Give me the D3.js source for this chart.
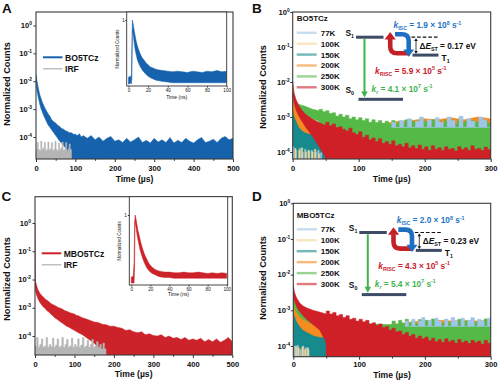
<!DOCTYPE html>
<html><head><meta charset="utf-8">
<script src="https://cdn.jsdelivr.net/npm/d3@7"></script>
<style>html,body{margin:0;padding:0;background:#fff;} svg{display:block;font-family:"Liberation Sans",Arial,sans-serif;font-weight:bold;}</style>
</head><body><svg id="c" width="500" height="382"></svg>
<script>
// ---------- DATA (values are log10 of normalized counts unless noted) ----------
const xTicksA = [0,100,200,300,400,500];
const xMinorA = [50,150,250,350,450];
const xTicksB = [0,100,200,300];
const xMinorB = [50,150,250];
const yTickExps = [0,-1,-2,-3,-4];
const insetTicks = [0,20,40,60,80,100];
const tempLabels = ["77K","100K","150K","200K","250K","300K"];

// Panel A
const timeA = [0,2,4,6,8,10,13,16,20,25,30,35,40,45,50,55,60,65,70,75,80,85,90,95,100,105,110,115,120,
  130,140,150,160,170,180,190,200,210,220,230,240,250,260,270,280,290,300,310,320,330,340,350,360,370,380,390,400,410,420,430,440,450,460,470,480,490,500];
const bo5tczUp = [-1.75,-1.95,-2.1,-2.25,-2.38,-2.5,-2.62,-2.75,-2.88,-3.02,-3.15,-3.25,-3.38,-3.45,-3.5,-3.58,-3.62,-3.7,-3.72,-3.78,-3.8,-3.85,-3.85,-3.9,-3.9,-3.95,-3.88,-4.0,-3.95,
  -4.05,-3.95,-4.1,-4.0,-4.15,-4.05,-3.98,-4.15,-4.1,-4.2,-4.05,-4.18,-4.1,-4.0,-4.2,-4.12,-4.22,-4.05,-4.18,-4.1,-4.2,-4.02,-4.22,-4.12,-4.2,-4.05,-4.15,-4.22,-4.1,-4.02,-4.2,-4.15,-4.08,-4.2,-4.05,-3.98,-4.1,-4.05];
const bo5tczLo = [-2.05,-2.3,-2.45,-2.6,-2.72,-2.85,-3.0,-3.1,-3.25,-3.4,-3.55,-3.65,-3.75,-3.85,-3.95,-4.05,-4.15,-4.22,-4.3,-4.4,-4.5,-4.65];
const irfTimeA = [0,3,6,9,12,15,18,21,24,27,30,33,36,39,42,45,48,51,54,57,60,63,66,69,72,75,78,81,84,87,90];
const irfA = [-4.45,-4.2,-4.45,-4.5,-4.15,-4.45,-4.4,-4.2,-4.5,-4.45,-4.18,-4.48,-4.42,-4.2,-4.5,-4.45,-4.15,-4.45,-4.5,-4.22,-4.45,-4.4,-4.18,-4.48,-4.45,-4.2,-4.5,-4.42,-4.25,-4.45,-4.5];
// inset A (ns, linear normalized counts)
const insetTime = [0,1,2,3,3.5,4,5,6,7,8,9,10,12,14,16,18,20,22,25,28,31,35,40,45,50,55,60,65,70,75,80,85,90,95,100];
const insetBlueUp = [0.1,0.12,0.1,0.15,0.6,1.0,0.92,0.82,0.74,0.66,0.6,0.55,0.47,0.41,0.37,0.33,0.3,0.27,0.25,0.23,0.22,0.21,0.2,0.19,0.2,0.19,0.18,0.2,0.19,0.18,0.2,0.19,0.21,0.19,0.2];
const insetBlueLo = [0,0,0.02,0,0.1,0.85,0.75,0.62,0.52,0.45,0.38,0.34,0.27,0.22,0.18,0.15,0.12,0.1,0.08,0.06,0.05,0.04,0.03,0.02,0.02,0.02,0.02,0.02,0.02,0.02,0.02,0.02,0.02,0.02,0.02];

// Panel C
const timeC = [0,1,2,4,6,8,10,13,16,20,25,30,35,40,45,50,55,60,65,70,75,80,85,90,95,100,105,110,115,120,
  130,140,150,160,170,180,190,200,210,220,230,240,250,260,270,280,290,300,310,320,330,340,350,360,370,380,390,400,410,420,430,440,450,460,470,480,490,500];
const mbo5tczUp = [0.0,-2.0,-2.1,-2.2,-2.3,-2.38,-2.42,-2.5,-2.55,-2.6,-2.68,-2.73,-2.78,-2.85,-2.88,-2.92,-2.95,-3.0,-3.02,-3.05,-3.1,-3.12,-3.15,-3.18,-3.2,-3.22,-3.27,-3.28,-3.32,-3.35,
  -3.4,-3.45,-3.5,-3.52,-3.58,-3.6,-3.65,-3.65,-3.7,-3.72,-3.8,-3.78,-3.85,-3.88,-3.85,-3.95,-3.92,-3.98,-4.0,-3.95,-4.05,-4.0,-4.08,-4.05,-4.12,-4.05,-4.15,-4.1,-4.15,-4.08,-4.2,-4.12,-4.2,-4.1,-4.22,-4.15,-4.05,-4.2];
const mbo5tczLo = [-2.3,-2.35,-2.45,-2.55,-2.62,-2.7,-2.75,-2.82,-2.88,-2.95,-3.02,-3.1,-3.15,-3.22,-3.28,-3.35,-3.4,-3.45,-3.5,-3.55,-3.6,-3.65,-3.68,-3.72,-3.76,-3.8,-3.84,-3.88,-3.92,-3.95,
  -4.05,-4.15,-4.25,-4.4,-4.55];
const irfTimeC = [0,4,8,12,16,20,24,28,32,36,40,44,48,52,56,60,64,68,72,76,80,84,88,92,96,100,104,108,112,116,120,124,128,132,136,140,144,148,152,156,160,164,168,172,176,180];
const irfC = [-4.35,-4.05,-4.4,-4.3,-4.1,-4.4,-4.35,-4.05,-4.4,-4.3,-4.38,-4.08,-4.4,-4.32,-4.1,-4.4,-4.35,-4.05,-4.4,-4.3,-4.12,-4.4,-4.35,-4.08,-4.4,-4.3,-4.38,-4.1,-4.4,-4.32,-4.05,-4.4,-4.35,-4.15,-4.4,-4.3,-4.12,-4.4,-4.35,-4.2,-4.4,-4.3,-4.45,-4.25,-4.45,-4.5];
const insetRedUp = [0.08,0.1,0.08,0.3,0.8,1.0,0.95,0.86,0.78,0.72,0.66,0.6,0.5,0.42,0.36,0.3,0.26,0.23,0.2,0.18,0.17,0.16,0.16,0.15,0.15,0.16,0.15,0.15,0.16,0.15,0.14,0.15,0.14,0.15,0.14];
const insetRedLo = [0,0,0,0,0.2,0.9,0.82,0.72,0.64,0.57,0.5,0.45,0.36,0.29,0.23,0.19,0.16,0.14,0.12,0.1,0.09,0.08,0.08,0.07,0.07,0.07,0.07,0.07,0.07,0.07,0.07,0.07,0.07,0.07,0.07];

// Panels B / D shared time grid (µs)
const timeBD = [0,2,5,10,15,20,30,40,50,60,75,90,105,120,140,160,180,200,220,240,260,280,300];
const spikeT40 = [40,45,50,55,60,65,70,75,80,85,90,95,100,105,110,115,120,125,130,135,140,145,150,155,160,165,170,175,180,185,190,195,200,205,210,215,220,225,230,235,240,245,250,255,260,265,270,275,280,285,290,295,300];
const spikeT50 = spikeT40.slice(2);
const spikeT150 = spikeT40.slice(22);
// Panel B (BO5TCz)
const b150Up = [-2.55,-2.75,-2.9,-3.1,-3.2,-3.3,-3.45,-3.6,-3.85,-4.3];
const b200Up = [-2.35,-2.6,-2.78,-2.95,-3.05,-3.12,-3.2,-3.25,-3.28,-3.3,-3.28,-3.25,-3.22,-3.2,-3.18,-3.12,-3.1,-3.05,-3.08,-3.02,-3.08,-3.0,-3.05];
const b200Lo = [-2.75,-2.95,-3.1,-3.3,-3.4,-3.45,-3.5,-3.5,-3.5,-3.5,-3.5,-3.45,-3.42,-3.4,-3.38,-3.35,-3.32,-3.3,-3.3,-3.28,-3.3,-3.28,-3.3];
const b250Up = [-2.35,-2.5,-2.6,-2.64,-2.67,-2.7,-2.78,-2.82,-2.88,-2.95,-3.02,-3.08,-3.13,-3.18,-3.2,-3.22,-3.2,-3.22,-3.2,-3.22,-3.18,-3.2,-3.22];
const b250Lo = [-2.4,-2.55,-2.68,-2.85,-2.9,-2.95,-3.05,-3.12,-3.2,-3.3,-3.5,-3.6,-3.7,-3.8,-3.88,-3.95,-4.0,-4.02,-4.05,-4.05,-4.05,-4.05,-4.05];
const b250Spikes = [-2.78,-2.85,-2.82,-2.9,-2.88,-2.98,-2.92,-3.0,-2.95,-3.05,-3.0,-3.08,-3.02,-3.1,-3.05,-3.15,-3.08,-3.16,-3.1,-3.18,-3.12,-3.2,-3.1,-3.18,-3.12,-3.2,-3.08,-3.18,-3.12,-3.2,-3.1,-3.16,-3.12,-3.2,-3.08,-3.18,-3.12,-3.2,-3.1,-3.16,-3.12,-3.2,-3.08,-3.18,-3.12,-3.2,-3.1,-3.16,-3.12,-3.2,-3.1,-3.18,-3.12];
const b250SpikesLo = -3.3;
const b300Up = [-1.99,-2.3,-2.5,-2.7,-2.83,-2.93,-3.06,-3.16,-3.24,-3.32,-3.44,-3.56,-3.66,-3.74,-3.82,-3.9,-3.95,-3.98,-4.0,-4.02,-4.0,-4.03,-4.0];
const b300Lo = [-2.35,-2.6,-2.8,-3.0,-3.15,-3.3,-3.55,-3.85,-4.15];
const b300Spikes = [-3.15,-3.25,-3.2,-3.3,-3.28,-3.35,-3.4,-3.32,-3.45,-3.5,-3.42,-3.58,-3.52,-3.65,-3.6,-3.7,-3.62,-3.75,-3.7,-3.78,-3.68,-3.82,-3.78,-3.85,-3.75,-3.88,-3.82,-3.9,-3.8,-3.92,-3.85,-3.95,-3.82,-3.92,-3.88,-3.95,-3.85,-3.92,-3.9,-3.97,-3.85,-3.93,-3.88,-3.95,-3.82,-3.92,-3.9,-3.96,-3.86,-3.93,-3.9];
const b77FloorT = [0,2,4,6,8,10,12,14,16,18,20,22,24,26,28,30,32,34,36,38,40,42,44];
const b77FloorUp = [-3.85,-4.5,-3.95,-4.5,-4.5,-3.9,-4.5,-4.0,-4.5,-3.92,-4.5,-4.5,-3.98,-4.5,-3.95,-4.5,-4.5,-4.0,-4.5,-3.95,-4.5,-4.02,-4.5];
const b100FloorT = [1,3,5,7,9,11,13,15,17,19,21,23,25,27,29,31,33,35,37,39,41,43];
const b100FloorUp = [-4.5,-3.9,-4.5,-4.5,-3.95,-4.5,-3.88,-4.5,-4.5,-4.0,-4.5,-3.95,-4.5,-4.5,-4.0,-4.5,-3.92,-4.5,-4.5,-4.05,-4.5,-4.5];
const b77TailT = [150,156,162,168,174,180,186,192,198,204,210,216,222,228,234,240,246,252,258,264,270,276,282,288,294,300];
const b77TailUp = [-3.15,-3.3,-3.1,-3.3,-3.05,-3.3,-3.12,-3.0,-3.3,-3.08,-3.3,-3.02,-3.15,-3.3,-3.0,-3.1,-3.3,-2.98,-3.3,-3.05,-3.12,-3.3,-3.0,-3.08,-3.3,-3.05];
const b77TailLo = -3.3;
// Panel D (MBO5TCz)
const d150Up = [-2.95,-3.05,-3.15,-3.25,-3.35,-3.42,-3.55,-3.65,-3.8,-4.35];
const d200Up = [-2.5,-2.7,-2.85,-3.0,-3.1,-3.2,-3.3,-3.4,-3.45,-3.5,-3.5,-3.5,-3.48,-3.45,-3.42,-3.38,-3.32,-3.3,-3.28,-3.3,-3.28,-3.3,-3.28];
const d200Lo = [-3.0,-3.15,-3.3,-3.45,-3.55,-3.6,-3.7,-3.75,-3.75,-3.75,-3.72,-3.7,-3.7,-3.68,-3.65,-3.6,-3.58,-3.55,-3.55,-3.52,-3.55,-3.52,-3.55];
const d250Up = [-2.45,-2.6,-2.72,-2.85,-2.95,-3.0,-3.1,-3.15,-3.2,-3.22,-3.28,-3.32,-3.35,-3.38,-3.4,-3.4,-3.38,-3.38,-3.36,-3.38,-3.36,-3.38,-3.36];
const d250Lo = [-2.8,-2.95,-3.05,-3.18,-3.25,-3.3,-3.4,-3.5,-3.6,-3.65,-3.7,-3.75,-3.78,-3.8,-3.82,-3.85,-3.88,-3.95,-4.0,-4.0,-4.0,-4.0,-4.0];
const d250Spikes = [-3.3,-3.38,-3.28,-3.36,-3.25,-3.35,-3.3,-3.38,-3.26,-3.34,-3.28,-3.36,-3.24,-3.35,-3.3,-3.38,-3.26,-3.34,-3.28,-3.36,-3.25,-3.35,-3.3,-3.38,-3.26,-3.34,-3.28,-3.36,-3.24,-3.34,-3.3];
const d250SpikesLo = -3.4;
const d300Up = [-2.3,-2.5,-2.65,-2.8,-2.88,-2.93,-3.0,-3.05,-3.1,-3.15,-3.25,-3.32,-3.38,-3.45,-3.55,-3.68,-3.78,-3.85,-3.9,-3.92,-3.95,-3.95,-3.97];
const d300Lo = [-2.6,-2.75,-2.9,-3.05,-3.15,-3.25,-3.4,-3.55,-3.9];
const d300Spikes = [-3.02,-3.1,-3.06,-3.15,-3.12,-3.2,-3.15,-3.25,-3.22,-3.3,-3.25,-3.32,-3.28,-3.38,-3.35,-3.42,-3.38,-3.48,-3.45,-3.55,-3.5,-3.6,-3.58,-3.68,-3.62,-3.72,-3.68,-3.78,-3.72,-3.8,-3.75,-3.85,-3.78,-3.88,-3.82,-3.9,-3.8,-3.88,-3.84,-3.92,-3.82,-3.9,-3.86,-3.93,-3.84,-3.9,-3.86,-3.95,-3.84,-3.92,-3.88];
const d77FloorT = [0,2,4,6,8,10,12,14,16,18,20,22,24];
const d77FloorUp = [-4.0,-4.6,-4.05,-3.98,-4.6,-4.1,-4.6,-4.0,-4.6,-4.05,-4.6,-4.1,-4.6];
const d100FloorT = [1,3,5,7,9,11,13,15,17,19,21,23,25];
const d100FloorUp = [-4.6,-4.0,-4.6,-4.05,-4.6,-4.6,-4.02,-4.6,-4.1,-4.6,-4.05,-4.6,-4.6];
const d77TailT = [170,175,180,185,190,195,200,205,210,215,220,225,230,235,240,245,250,255,260,265,270,275,280,285,290,295,300];
const d77TailUp = [-3.3,-3.45,-3.25,-3.45,-3.3,-3.2,-3.45,-3.28,-3.45,-3.22,-3.3,-3.45,-3.25,-3.45,-3.2,-3.3,-3.45,-3.22,-3.45,-3.28,-3.2,-3.45,-3.25,-3.3,-3.45,-3.22,-3.3];
const d77TailLo = -3.45;

// rate constants text
const kiscB = ["1.9","8"], kriscB = ["5.9","5"], krB = ["4.1","7"], dEstB = "0.17";
const kiscD = ["2.0","8"], kriscD = ["4.3","5"], krD = ["5.4","7"], dEstD = "0.23";

// ---------- STYLE ----------
const BLUE = "#1762ad", RED = "#cc2229", GREY = "#b5b5b5";
const tempColors = ["#9fc5e8","#f3d594","#168a8c","#f68b1f","#55b947","#cf2028"];
const FLOOR = -6;
const svg = d3.select("#c");
const TXT = "#111";

function rich(sel, x, y, parts, size, fill, anchor) {
  const t = sel.append("text").attr("x", x).attr("y", y).attr("font-size", size)
    .attr("fill", fill || TXT).attr("text-anchor", anchor || "start");
  let cur = 0;
  for (const [s, k] of parts) {
    let off = 0, fs = size;
    if (k && k.includes("sup")) { off = -size * 0.4; fs = size * 0.64; }
    if (k && k.includes("sub")) { off = size * 0.25; fs = size * 0.64; }
    const ts = t.append("tspan").attr("font-size", fs).attr("dy", (off - cur).toFixed(2)).text(s);
    if (k && k.includes("i")) ts.attr("font-style", "italic");
    cur = off;
  }
  return t;
}

let clipN = 0;
function panel(o) {
  const x = d3.scaleLinear().domain(o.xDom).range([o.left, o.right]);
  const y = d3.scaleLog().domain([10 ** o.yMin, 10 ** o.yMax]).range([o.bottom, o.top]);
  const g = svg.append("g");
  const id = "clip" + (clipN++);
  g.append("clipPath").attr("id", id).append("rect")
    .attr("x", o.left).attr("y", o.top).attr("width", o.right - o.left).attr("height", o.bottom - o.top);
  const plot = g.append("g").attr("clip-path", `url(#${id})`);
  return { x, y, g, plot, o, yv: v => y(10 ** v) };
}

function band(p, yv, x, times, up, lo, color, curve) {
  const pts = times.map((t, i) => ({
    t, u: up[i],
    l: (typeof lo === "number") ? lo : ((lo && lo[i] != null) ? lo[i] : FLOOR)
  }));
  const a = d3.area().defined(d => d.u != null)
    .x(d => x(d.t)).y1(d => yv(d.u)).y0(d => yv(d.l)).curve(curve || d3.curveLinear);
  p.append("path").datum(pts).attr("d", a).attr("fill", color)
    .attr("stroke", color).attr("stroke-width", 0.5);
}

function axes(P, xt, xm, tickLabelDx, titleX, titleY, xLabY, xTitleY) {
  const { x, y, g, o } = P;
  const ax = g.append("g").attr("transform", `translate(0,${o.bottom})`)
    .call(d3.axisBottom(x).tickValues(xt).tickSize(3).tickPadding(1.5).tickFormat(d => d));
  ax.select(".domain").remove();
  ax.selectAll("text").attr("font-size", 7.6).attr("font-family", "Liberation Sans, Arial, sans-serif")
    .attr("font-weight", "bold").attr("fill", TXT).attr("dy", null).attr("y", xLabY - o.bottom);
  ax.selectAll("line").attr("stroke", "#333");
  const am = g.append("g").attr("transform", `translate(0,${o.bottom})`)
    .call(d3.axisBottom(x).tickValues(xm).tickSize(1.8).tickFormat(""));
  am.select(".domain").remove(); am.selectAll("line").attr("stroke", "#333");
  const ay = g.append("g").attr("transform", `translate(${o.left},0)`)
    .call(d3.axisLeft(y).tickValues(yTickExps.map(e => 10 ** e)).tickSize(2.5).tickFormat(""));
  ay.select(".domain").remove(); ay.selectAll("line").attr("stroke", "#333");
  yTickExps.forEach(e => {
    rich(g, o.left - tickLabelDx, y(10 ** e) + 2.7, [["10", ""], [String(e), "sup"]], 7.6, TXT, "end");
  });
  g.append("rect").attr("x", o.left).attr("y", o.top).attr("width", o.right - o.left)
    .attr("height", o.bottom - o.top).attr("fill", "none").attr("stroke", "#3a3a3a").attr("stroke-width", 1.1);
  g.append("text").attr("font-size", 9.2).attr("fill", TXT).attr("text-anchor", "middle")
    .attr("transform", `translate(${titleX},${titleY}) rotate(-90)`).text("Normalized Counts");
  g.append("text").attr("font-size", 8.6).attr("fill", TXT).attr("text-anchor", "middle")
    .attr("x", (o.left + o.right) / 2).attr("y", xTitleY).text("Time (µs)");
}

function inset(box, dom, yr, up, lo, color, labY, titleY, yTitleX, oneX) {
  const g = svg.append("g");
  const xi = d3.scaleLinear().domain(dom).range([box.l, box.r]);
  const yi = d3.scaleLinear().domain([0, 1]).range(yr);
  g.append("rect").attr("x", box.l).attr("y", box.t).attr("width", box.r - box.l).attr("height", box.b - box.t)
    .attr("fill", "#fff");
  const id = "clip" + (clipN++);
  g.append("clipPath").attr("id", id).append("rect").attr("x", box.l).attr("y", box.t)
    .attr("width", box.r - box.l).attr("height", box.b - box.t);
  const p = g.append("g").attr("clip-path", `url(#${id})`);
  band(p, v => yi(v), xi, insetTime, up, lo, color);
  g.append("rect").attr("x", box.l).attr("y", box.t).attr("width", box.r - box.l).attr("height", box.b - box.t)
    .attr("fill", "none").attr("stroke", "#333").attr("stroke-width", 0.9);
  const ax = g.append("g").attr("transform", `translate(0,${box.b})`)
    .call(d3.axisBottom(xi).tickValues(insetTicks).tickSize(1.5).tickPadding(1).tickFormat(d => d));
  ax.select(".domain").remove(); ax.selectAll("line").attr("stroke", "#333");
  ax.selectAll("text").attr("font-size", 4.6).attr("font-weight", "normal").attr("fill", TXT)
    .attr("font-family", "Liberation Sans, Arial, sans-serif").attr("dy", null).attr("y", labY - box.b);
  const ay = g.append("g").attr("transform", `translate(${box.l},0)`)
    .call(d3.axisLeft(yi).tickValues([1]).tickSize(1.5).tickFormat(""));
  ay.select(".domain").remove(); ay.selectAll("line").attr("stroke", "#333");
  g.append("text").attr("x", oneX).attr("y", yi(1) + 1.6).attr("font-size", 4.6).attr("font-weight", "normal")
    .attr("text-anchor", "middle").attr("fill", TXT).text("1");
  g.append("text").attr("x", (box.l + box.r) / 2).attr("y", titleY).attr("font-size", 5).attr("font-weight", "normal")
    .attr("text-anchor", "middle").attr("fill", TXT).text("Time (ns)");
  g.append("text").attr("font-size", 4.6).attr("font-weight", "normal").attr("fill", TXT).attr("text-anchor", "middle")
    .attr("transform", `translate(${yTitleX},${(box.t + box.b) / 2}) rotate(-90)`).text("Normalized Counts");
}

function diagram(dx, dy, kisc, krisc, kr, dEst) {
  const g = svg.append("g").attr("transform", `translate(${dx},${dy})`);
  const bar = "#3d4b66";
  g.append("rect").attr("x", 356).attr("y", 35.7).attr("width", 27.5).attr("height", 3).attr("fill", bar);
  g.append("rect").attr("x", 412.5).attr("y", 53.6).attr("width", 26).attr("height", 3).attr("fill", bar);
  g.append("rect").attr("x", 358.5).attr("y", 97.8).attr("width", 44.5).attr("height", 3).attr("fill", bar);
  g.append("line").attr("x1", 364.5).attr("y1", 39).attr("x2", 364.5).attr("y2", 92).attr("stroke", "#3cb44b").attr("stroke-width", 2);
  g.append("path").attr("d", "M361.3,91.5 L367.7,91.5 L364.5,97.5 Z").attr("fill", "#3cb44b");
  g.append("path").attr("d", "M410,53.3 L397,53.3 Q390.2,53.3 390.2,46.5 L390.2,39").attr("fill", "none")
    .attr("stroke", "#c42127").attr("stroke-width", 4.6);
  g.append("path").attr("d", "M384.6,39.5 L395.8,39.5 L390.2,32 Z").attr("fill", "#c42127");
  g.append("path").attr("d", "M395,34.3 L402,34.3 Q408.7,34.3 408.7,41 L408.7,50").attr("fill", "none")
    .attr("stroke", "#1f6fc1").attr("stroke-width", 4.6);
  g.append("path").attr("d", "M403.2,49.5 L414.2,49.5 L408.7,56.8 Z").attr("fill", "#1f6fc1");
  g.append("line").attr("x1", 411.5).attr("x2", 438.5).attr("y1", 37.2).attr("y2", 37.2)
    .attr("stroke", "#111").attr("stroke-width", 1.2).attr("stroke-dasharray", "3.6,2");
  g.append("line").attr("x1", 416).attr("x2", 416).attr("y1", 40).attr("y2", 52).attr("stroke", "#111").attr("stroke-width", 0.8);
  g.append("path").attr("d", "M414.2,41 L417.8,41 L416,38.3 Z M414.2,51 L417.8,51 L416,53.7 Z").attr("fill", "#111");
  rich(g, 345.5, 35.5, [["S", ""], ["1", "sub"]], 8.4, TXT);
  rich(g, 441.5, 61, [["T", ""], ["1", "sub"]], 8.4, TXT);
  rich(g, 345.5, 92.5, [["S", ""], ["0", "sub"]], 8.4, TXT);
  rich(g, 393.5, 28, [["k", "i"], ["ISC", "sub"], [" = " + kisc[0] + " × 10", ""], [kisc[1], "sup"], [" s", ""], ["-1", "sup"]], 8.3, "#1f74c4");
  rich(g, 419.5, 48.5, [["Δ", ""], ["E", "i"], ["ST", "sub"], [" = " + dEst + " eV", ""]], 8.3, TXT);
  rich(g, 375, 73.5, [["k", "i"], ["RISC", "sub"], [" = " + krisc[0] + " × 10", ""], [krisc[1], "sup"], [" s", ""], ["-1", "sup"]], 8.3, "#c8202a");
  rich(g, 371.5, 91.5, [["k", "i"], ["r", "isub"], [" = " + kr[0] + " × 10", ""], [kr[1], "sup"], [" s", ""], ["-1", "sup"]], 8.3, "#3cb44b");
}

function tempLegend(x0, y0, dy, title, titleY) {
  const g = svg.append("g");
  g.append("text").attr("x", x0).attr("y", titleY).attr("font-size", 8).attr("fill", TXT).text(title);
  tempLabels.forEach((lab, i) => {
    const yy = y0 + dy * i;
    g.append("line").attr("x1", x0).attr("x2", x0 + 20).attr("y1", yy).attr("y2", yy)
      .attr("stroke", tempColors[i]).attr("stroke-width", 2.4).attr("stroke-opacity", 0.6);
    g.append("text").attr("x", x0 + 24).attr("y", yy + 2.9).attr("font-size", 8).attr("fill", TXT).text(lab);
  });
}

function simpleLegend(x0, y1, y2, name, color) {
  const g = svg.append("g");
  g.append("line").attr("x1", x0).attr("x2", x0 + 19.5).attr("y1", y1).attr("y2", y1).attr("stroke", color).attr("stroke-width", 2);
  g.append("text").attr("x", x0 + 22).attr("y", y1 + 3.2).attr("font-size", 8.6).attr("fill", TXT).text(name);
  g.append("line").attr("x1", x0).attr("x2", x0 + 19.5).attr("y1", y2).attr("y2", y2).attr("stroke", GREY).attr("stroke-width", 1.3);
  g.append("text").attr("x", x0 + 22).attr("y", y2 + 3.2).attr("font-size", 8.6).attr("fill", TXT).text("IRF");
}

function panelLabel(x, y, s) {
  svg.append("text").attr("x", x).attr("y", y).attr("font-size", 13.5).attr("fill", TXT).text(s);
}

// ---------- PANEL A ----------
const A = panel({ left: 36, right: 233, top: 12, bottom: 159, xDom: [0, 500], yMin: -4.79, yMax: 0.484 });
band(A.plot, A.yv, A.x, timeA, bo5tczUp, bo5tczLo, BLUE);
band(A.plot, A.yv, A.x, irfTimeA, irfA, null, GREY, d3.curveStepAfter);
axes(A, xTicksA, xMinorA, 4, 10, 84, 170.5, 182);
inset({ l: 126.7, r: 226.7, t: 12, b: 86 }, [-1.8, 100], [84, 20], insetBlueUp, insetBlueLo, BLUE, 91.8, 98.5, 118.5, 123.5);
simpleLegend(43, 57.3, 68.8, "BO5TCz", BLUE);
panelLabel(2, 13, "A");

// ---------- PANEL C ----------
const C = panel({ left: 35, right: 232.3, top: 196.7, bottom: 355, xDom: [0, 500], yMin: -4.67, yMax: 0.93 });
band(C.plot, C.yv, C.x, timeC, mbo5tczUp, mbo5tczLo, RED);
band(C.plot, C.yv, C.x, irfTimeC, irfC, null, GREY, d3.curveStepAfter);
axes(C, xTicksA, xMinorA, 4, 9.5, 279, 366.5, 377);
inset({ l: 129.3, r: 227.7, t: 196.7, b: 285 }, [-2, 101], [283, 215], insetRedUp, insetRedLo, RED, 291, 295.5, 120.7, 125.5);
simpleLegend(41.7, 253.3, 264.8, "MBO5TCz", RED);
panelLabel(1.5, 201, "C");

// ---------- PANEL B ----------
const B = panel({ left: 292.7, right: 490.7, top: 12, bottom: 159, xDom: [0, 300], yMin: -4.2, yMax: 0 });
band(B.plot, B.yv, B.x, timeBD, b150Up, null, tempColors[2]);
band(B.plot, B.yv, B.x, timeBD, b200Up, b200Lo, tempColors[3]);
band(B.plot, B.yv, B.x, timeBD, b250Up, b250Lo, tempColors[4]);
band(B.plot, B.yv, B.x, spikeT40, b250Spikes, b250SpikesLo, tempColors[4], d3.curveStepAfter);
band(B.plot, B.yv, B.x, timeBD, b300Up, b300Lo, tempColors[5]);
band(B.plot, B.yv, B.x, spikeT50, b300Spikes, null, tempColors[5], d3.curveStepAfter);
band(B.plot, B.yv, B.x, b77FloorT, b77FloorUp, null, tempColors[0], d3.curveStepAfter);
band(B.plot, B.yv, B.x, b100FloorT, b100FloorUp, null, tempColors[1], d3.curveStepAfter);
band(B.plot, B.yv, B.x, b77TailT, b77TailUp, b77TailLo, tempColors[0], d3.curveStepAfter);
axes(B, xTicksB, xMinorB, 3, 266, 87, 170.5, 182);
tempLegend(296.7, 32.8, 10.9, "BO5TCz", 21);
diagram(0, 0, kiscB, kriscB, krB, dEstB);
panelLabel(252, 13, "B");

// ---------- PANEL D ----------
const D = panel({ left: 293.3, right: 490.7, top: 203.3, bottom: 356.7, xDom: [0, 300], yMin: -4.3, yMax: 0 });
band(D.plot, D.yv, D.x, timeBD, d150Up, null, tempColors[2]);
band(D.plot, D.yv, D.x, timeBD, d200Up, d200Lo, tempColors[3]);
band(D.plot, D.yv, D.x, timeBD, d250Up, d250Lo, tempColors[4]);
band(D.plot, D.yv, D.x, spikeT150, d250Spikes, d250SpikesLo, tempColors[4], d3.curveStepAfter);
band(D.plot, D.yv, D.x, timeBD, d300Up, d300Lo, tempColors[5]);
band(D.plot, D.yv, D.x, spikeT50, d300Spikes, null, tempColors[5], d3.curveStepAfter);
band(D.plot, D.yv, D.x, d77FloorT, d77FloorUp, null, tempColors[0], d3.curveStepAfter);
band(D.plot, D.yv, D.x, d100FloorT, d100FloorUp, null, tempColors[1], d3.curveStepAfter);
band(D.plot, D.yv, D.x, d77TailT, d77TailUp, d77TailLo, tempColors[0], d3.curveStepAfter);
axes(D, xTicksB, xMinorB, 3, 266, 278, 367.5, 378);
tempLegend(296.7, 229.3, 10.95, "MBO5TCz", 218);
diagram(3.3, 195.3, kiscD, kriscD, krD, dEstD);
panelLabel(252, 201, "D");
</script></body></html>
